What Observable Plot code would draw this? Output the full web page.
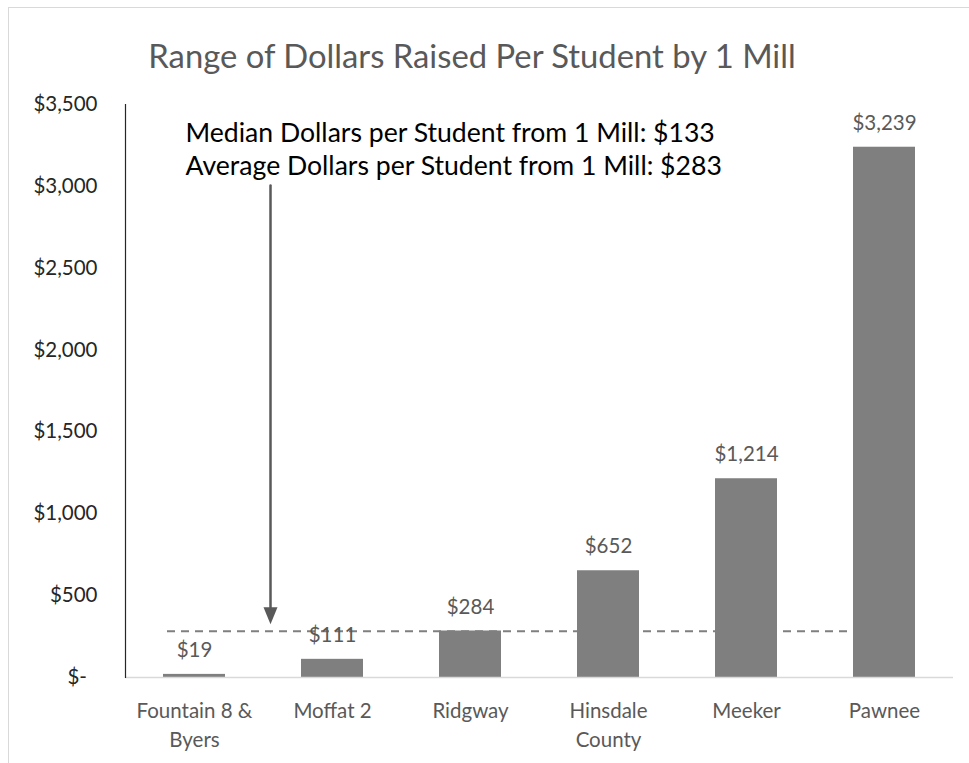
<!DOCTYPE html>
<html><head><meta charset="utf-8">
<script src="https://cdn.jsdelivr.net/npm/d3@7"></script>
<script src="https://cdn.jsdelivr.net/npm/@observablehq/plot@0.6"></script>
<style>
body{margin:0;background:#fff;font-family:Lato,"Open Sans",sans-serif;width:969px;height:763px;overflow:hidden;position:relative;}
#frame{position:absolute;left:8px;top:7px;width:990px;height:800px;border-left:1px solid #d9d9d9;border-top:1px solid #d9d9d9;}
#title{position:absolute;left:0;width:944px;top:36px;text-align:center;font-size:32.8px;line-height:40px;color:#595959;}
#chart{position:absolute;left:0;top:90px;}
</style></head>
<body>
<div id="frame"></div>
<div id="title">Range of Dollars Raised Per Student by 1 Mill</div>
<div id="chart"></div>
<script>
const districts = ["Fountain 8 & Byers","Moffat 2","Ridgway","Hinsdale County","Meeker","Pawnee"];
const districtLabels = ["Fountain 8 &\nByers","Moffat 2","Ridgway","Hinsdale\nCounty","Meeker","Pawnee"];
const dollarsPerStudent = [19,111,284,652,1214,3239];
const yTicks = [0,500,1000,1500,2000,2500,3000,3500];
const medianDollars = 133;
const averageDollars = 283;
const annotationLines = [
  "Median Dollars per Student from 1 Mill: $" + medianDollars,
  "Average Dollars per Student from 1 Mill: $" + averageDollars
];

const rows = districts.map((d,i)=>({district:d, value:dollarsPerStudent[i], label:districtLabels[i]}));
const money = v => v === 0 ? "$-\u00a0\u00a0" : "$" + d3.format(",")(v);

// downward arrowhead whose tip sits at the symbol origin
const arrowHead = {draw(context) { context.moveTo(-7, -17); context.lineTo(7, -17); context.lineTo(0, 0); context.closePath(); }};

const chart = Plot.plot({
  width: 969,
  height: 673,
  marginTop: 14,
  marginBottom: 86,
  marginLeft: 125,
  marginRight: 16,
  style: {fontFamily: "Lato, 'Open Sans', sans-serif", fontSize: "20.5px", background: "transparent"},
  x: {domain: districts, paddingInner: 0.55, paddingOuter: 0.275, axis: null},
  y: {domain: [0, 3500], axis: null},
  marks: [
    Plot.ruleY([averageDollars], {x1: () => districts[0], x2: () => districts[5], dx: 4, insetRight: 8, stroke: "#7f7f7f", strokeWidth: 2, strokeDasharray: "8,6"}),
    Plot.barY(rows, {x: "district", y: "value", fill: "#7f7f7f"}),
    Plot.ruleY([0], {stroke: "#d9d9d9", strokeWidth: 1.5}),
    Plot.frame({anchor: "left", stroke: "#262626", strokeWidth: 1.2}),
    Plot.axisY({ticks: yTicks, tickSize: 0, tickPadding: 28, tickFormat: money, label: null, fill: "#262626", fontSize: 20.5}),
    Plot.text(rows, {x: "district", y: "value", text: d => money(d.value), dy: -24, fill: "#595959", fontSize: 20.5}),
    Plot.text(rows, {x: "district", y: 0, text: "label", lineAnchor: "top", dy: 21, lineHeight: 1.37, fill: "#595959", fontSize: 20.5}),
    Plot.text([annotationLines.join("\n")], {frameAnchor: "top-left", textAnchor: "start", lineAnchor: "top", dx: 60, dy: 14, lineHeight: 1.25, fill: "#000", fontSize: 26.6}),
    Plot.arrow([averageDollars], {x1: () => districts[0], x2: () => districts[0], y1: () => 3500, y2: d => d, dx: 76, insetStart: 81, insetEnd: 20, stroke: "#595959", strokeWidth: 2.5, headLength: 0, bend: 0}),
    Plot.dot([averageDollars], {x: () => districts[0], y: d => d, dx: 76, dy: -7, symbol: arrowHead, fill: "#595959", stroke: "none"})
  ]
});
document.getElementById("chart").appendChild(chart);
</script>
</body></html>
